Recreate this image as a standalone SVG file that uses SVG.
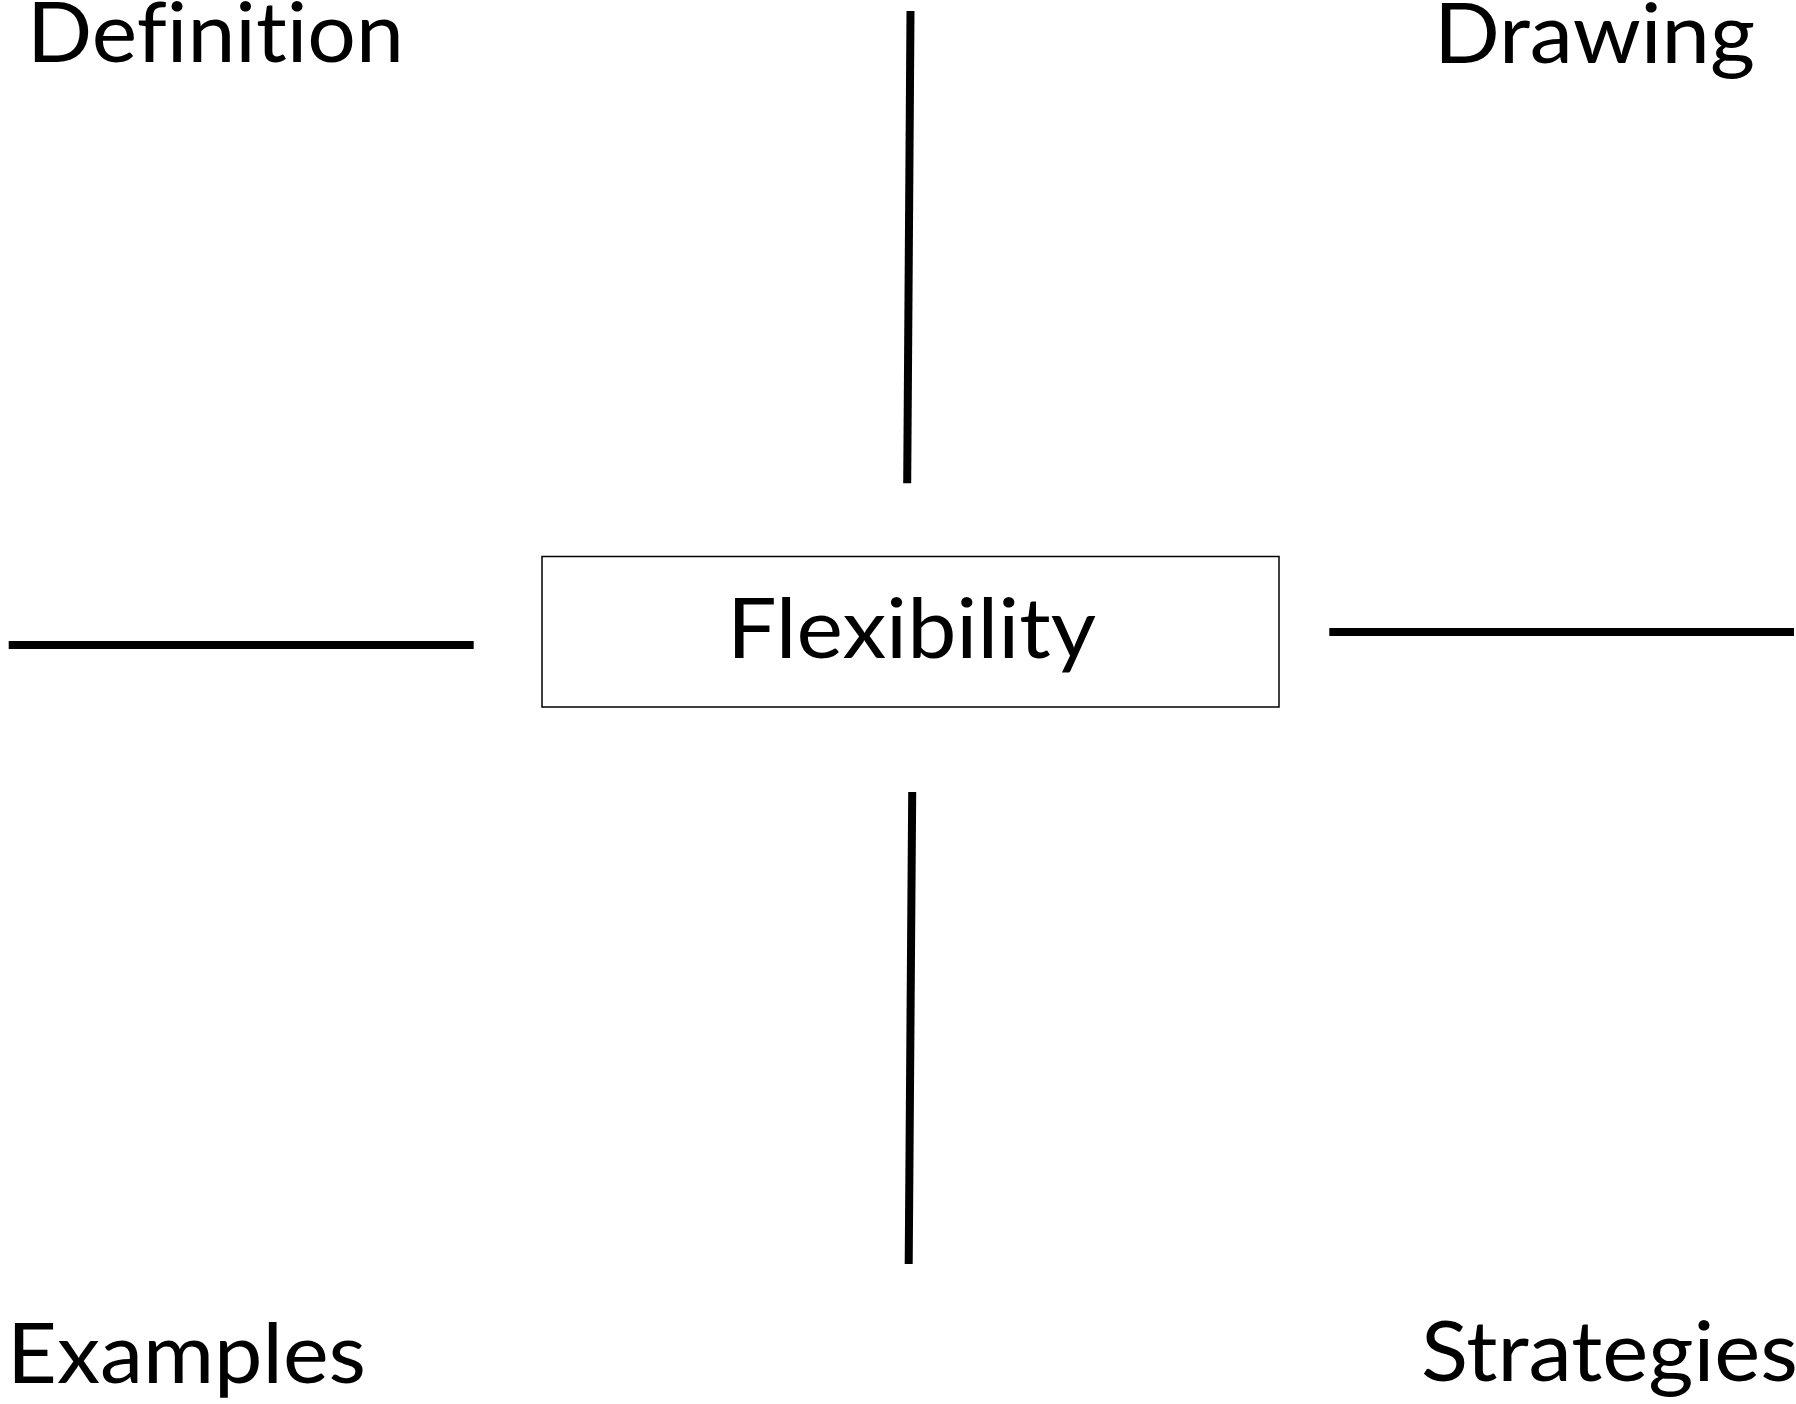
<svg xmlns="http://www.w3.org/2000/svg" width="1796" height="1404" viewBox="0 0 1796 1404">
  <style>
    .label { font-family: Lato, "Open Sans", "Liberation Sans", sans-serif; font-size: 84px; fill: #000;
             font-variant-ligatures: none; font-feature-settings: "liga" 0, "clig" 0; }
    .arm { stroke: #000; stroke-width: 8; stroke-linecap: butt; fill: none; }
    .box { fill: #fff; stroke: #000; stroke-width: 1.5; }
  </style>
  <rect width="1796" height="1404" fill="#fff"/>

  <!-- corner headings -->
  <g id="definition">
    <text class="label" x="27" y="62" textLength="377" lengthAdjust="spacingAndGlyphs">Definition</text>
  </g>
  <g id="drawing">
    <text class="label" x="1434" y="63" textLength="321" lengthAdjust="spacingAndGlyphs">Drawing</text>
  </g>
  <g id="examples">
    <text class="label" x="7" y="1383" textLength="359" lengthAdjust="spacingAndGlyphs">Examples</text>
  </g>
  <g id="strategies">
    <text class="label" x="1421" y="1381" textLength="377" lengthAdjust="spacingAndGlyphs">Strategies</text>
  </g>

  <!-- central concept -->
  <g id="flexibility">
    <rect class="box" x="542" y="556.5" width="737" height="150.5"/>
    <text class="label" x="727" y="658" textLength="369" lengthAdjust="spacingAndGlyphs">Flexibility</text>
  </g>

  <!-- dividing arms -->
  <g id="connectors">
    <line class="arm" x1="910.5" y1="11" x2="907.2" y2="483.3"/>
    <line class="arm" x1="8.7" y1="645" x2="473.7" y2="645"/>
    <line class="arm" x1="1329.3" y1="632" x2="1794" y2="632"/>
    <line class="arm" x1="912.2" y1="792" x2="908.7" y2="1264"/>
  </g>
</svg>
